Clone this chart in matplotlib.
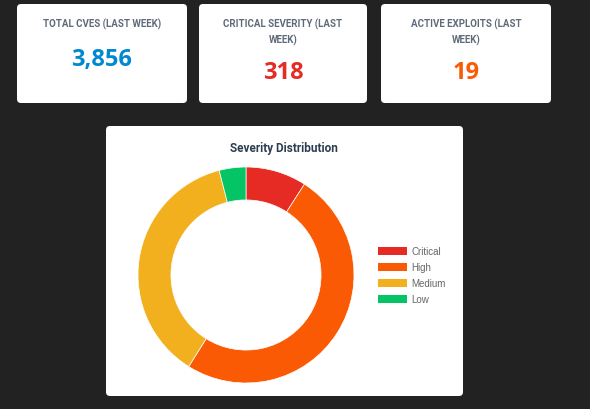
import matplotlib
matplotlib.use("Agg")
import matplotlib.pyplot as plt
from matplotlib.patches import FancyBboxPatch, Rectangle

card_titles = ["TOTAL CVES (LAST WEEK)", "CRITICAL SEVERITY (LAST\nWEEK)", "ACTIVE EXPLOITS (LAST\nWEEK)"]
card_values = ["3,856", "318", "19"]
card_colors = ["#0288d1", "#e52b24", "#fb5a05"]

categories = ["Critical", "High", "Medium", "Low"]
shares = [9.1, 49.8, 37.1, 4.0]
colors = ["#e52b24", "#fb5a05", "#f2b01e", "#05c466"]

W, H = 590, 410
fig = plt.figure(figsize=(W/100, H/100), dpi=100, facecolor="#222222")
bg = fig.add_axes([0, 0, 1, 1])
bg.set_xlim(0, W); bg.set_ylim(H, 0); bg.axis("off")

cards_x = [(17, 187), (199, 367), (381, 551)]
for (x0, x1), t, v, c in zip(cards_x, card_titles, card_values, card_colors):
    bg.add_patch(FancyBboxPatch((x0, 5), x1-x0, 99, boxstyle="round,pad=0,rounding_size=4",
                                fc="white", ec="none"))
    cx = (x0+x1)/2
    bg.text(cx, 19, t, ha="center", va="top", fontsize=7, color="#5f6b7a",
            family="Roboto", linespacing=1.5, fontweight="bold")
    vy = 60 if "\n" not in t else 73
    bg.text(cx, vy, v, ha="center", va="center", fontsize=17, color=c,
            family="Open Sans", fontweight="bold")

bg.add_patch(FancyBboxPatch((106, 127), 357, 270, boxstyle="round,pad=0,rounding_size=4",
                            fc="white", ec="none"))
bg.text(284, 149, "Severity Distribution", ha="center", va="center", fontsize=8.5,
        color="#2c3e50", family="Roboto", fontweight="bold")

cx, cy, r = 246, 276, 108
ax = fig.add_axes([(cx-r)/W, 1-(cy+r)/H, 2*r/W, 2*r/H])
ax.pie(shares, colors=colors, startangle=90, counterclock=False,
       wedgeprops=dict(width=0.305, edgecolor="white", linewidth=0.5))
ax.set_aspect("auto")
ax.set_xlim(-1, 1); ax.set_ylim(-1, 1)

for i, (cat, col) in enumerate(zip(categories, colors)):
    y = 248 + i*16
    bg.add_patch(Rectangle((378, y), 29, 8, fc=col, ec="none"))
    bg.text(411, y+4, cat, va="center", ha="left", fontsize=7, color="#666666",
            family="Liberation Sans")

fig.savefig("out.png", dpi=100, facecolor=fig.get_facecolor())
